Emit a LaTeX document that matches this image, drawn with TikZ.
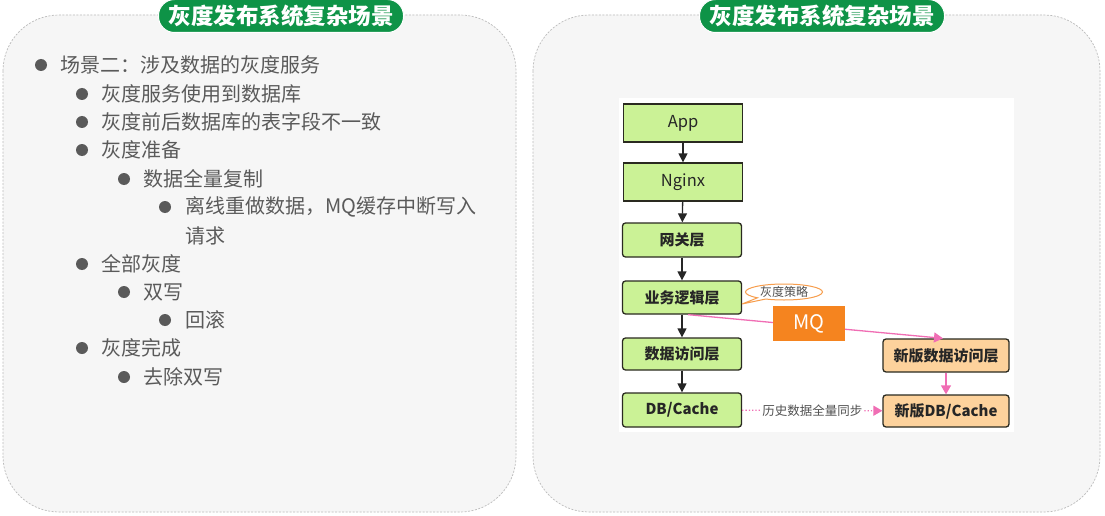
\documentclass[tikz,border=0pt]{standalone}
\usepackage{fontspec}
\setmainfont{Noto Sans CJK SC}
\usetikzlibrary{arrows.meta,shapes.callouts}
\definecolor{panelfill}{HTML}{F6F6F6}
\definecolor{panelline}{HTML}{BBBBBB}
\definecolor{titlegreen}{HTML}{0E9347}
\definecolor{txtgray}{HTML}{5A5A5A}
\definecolor{boxgreen}{HTML}{CBF296}
\definecolor{boxorange}{HTML}{FDD29C}
\definecolor{mqorange}{HTML}{F5841F}
\definecolor{pinkline}{HTML}{F06EB4}
\definecolor{boxline}{HTML}{2A2A20}
\tikzset{
  panel/.style={fill=panelfill, draw=panelline, dash pattern=on 2pt off 1.5pt, line width=0.7pt, rounded corners=56},
  titlepill/.style={fill=titlegreen, draw=white, line width=1pt, rounded corners=16, text=white, font=\bfseries\fontsize{22.5}{24}\selectfont, minimum height=33, inner xsep=10, inner ysep=0},
  item/.style={anchor=west, text=txtgray, font=\fontsize{20}{28}\selectfont, inner sep=0},
  dot/.style={circle, fill=txtgray, inner sep=0, minimum size=12},
  gbox/.style={fill=boxgreen, draw=boxline, line width=1.3pt, minimum width=119, text=black!85, inner sep=0},
  obox/.style={fill=boxorange, draw=boxline, line width=1.3pt, minimum width=126, text=black!85, inner sep=0, rounded corners=3},
  barrow/.style={draw=black!85, line width=1.3pt, -{Triangle[length=9,width=9]}},
  parrow/.style={draw=pinkline, line width=1.3pt, -{Triangle[length=9,width=10]}},
}
\begin{document}
\begin{tikzpicture}[x=1pt,y=-1pt]
\useasboundingbox (0,0) rectangle (1105,516);
\fill[white] (0,0) rectangle (1105,516);
% panels
\draw[panel] (3,15) rectangle (516,512);
\draw[panel] (533,15) rectangle (1100,512);
\node[titlepill] (t1) at (281,16) {灰度发布系统复杂场景};
\node[titlepill] (t2) at (822,16) {灰度发布系统复杂场景};
% left list
\node[dot] (b1) at (41,65) {};
\node[item] (i1) at (60,65) {场景二：涉及数据的灰度服务};
\node[dot] (b2) at (82,94) {};
\node[item] (i2) at (101,94) {灰度服务使用到数据库};
\node[dot] (b3) at (82,122) {};
\node[item] (i3) at (101,122) {灰度前后数据库的表字段不一致};
\node[dot] (b4) at (82,150) {};
\node[item] (i4) at (101,150) {灰度准备};
\node[dot] (b5) at (124,179) {};
\node[item] (i5) at (143,179) {数据全量复制};
\node[dot] (b6) at (165,207) {};
\node[item] (i6) at (185,207) {离线重做数据，MQ缓存中断写入};
\node[item] (i6b) at (185,236) {请求};
\node[dot] (b7) at (82,264) {};
\node[item] (i7) at (101,264) {全部灰度};
\node[dot] (b8) at (124,292) {};
\node[item] (i8) at (143,292) {双写};
\node[dot] (b9) at (165,320) {};
\node[item] (i9) at (185,320) {回滚};
\node[dot] (b10) at (82,348) {};
\node[item] (i10) at (101,348) {灰度完成};
\node[dot] (b11) at (124,377) {};
\node[item] (i11) at (143,377) {去除双写};
% right diagram
\fill[white] (619,98) rectangle (1014,432);
\node[gbox, minimum height=38, font=\fontsize{16.5}{18}\selectfont] (app) at (683,123) {App};
\node[gbox, minimum height=38, font=\fontsize{16.5}{18}\selectfont] (ngx) at (683,182) {Nginx};
\node[gbox, minimum height=34, rounded corners=3, font=\bfseries\fontsize{15}{17}\selectfont] (gw) at (682,240) {网关层};
\node[gbox, minimum height=33, rounded corners=3, font=\bfseries\fontsize{15}{17}\selectfont] (biz) at (682,297.5) {业务逻辑层};
\node[gbox, minimum height=32, rounded corners=3, font=\bfseries\fontsize{15}{17}\selectfont] (dal) at (682,354) {数据访问层};
\node[gbox, minimum height=34, rounded corners=3, font=\bfseries\fontsize{15}{17}\selectfont] (db) at (682,410) {DB/Cache};
\node[obox, minimum height=33, font=\bfseries\fontsize{15}{17}\selectfont] (ndal) at (946,355.5) {新版数据访问层};
\node[obox, minimum height=32, font=\bfseries\fontsize{15}{17}\selectfont] (ndb) at (946,411) {新版DB/Cache};
\draw[barrow] (app) -- (ngx);
\draw[barrow] (ngx) -- (gw);
\draw[barrow] (gw) -- (biz);
\draw[barrow] (biz) -- (dal);
\draw[barrow] (dal) -- (db);
\coordinate (pstart) at ([xshift=6]biz.south);
\draw[parrow] (pstart) -- ([xshift=-3]ndal.north);
\node[fill=mqorange, minimum width=72, minimum height=35, inner sep=0, text=white, font=\fontsize{20}{22}\selectfont] (mq) at (809,323.5) {MQ};
\draw[parrow] (ndal) -- (ndb);
\draw[draw=pinkline, line width=1.3pt, dotted, -{Triangle[length=9,width=10]}] (db) -- (ndb)
  node[midway, fill=white, inner sep=1, text=txtgray!90!black, font=\fontsize{12.5}{14}\selectfont] (sync) {历史数据全量同步};
\node[ellipse callout, draw=mqorange!80!white, line width=1pt, fill=white, minimum width=77, minimum height=16, inner sep=0, callout absolute pointer={(742,304)}, text=txtgray!90!black, font=\fontsize{12}{13}\selectfont] (gray) at (784,292) {灰度策略};
\end{tikzpicture}
\end{document}
